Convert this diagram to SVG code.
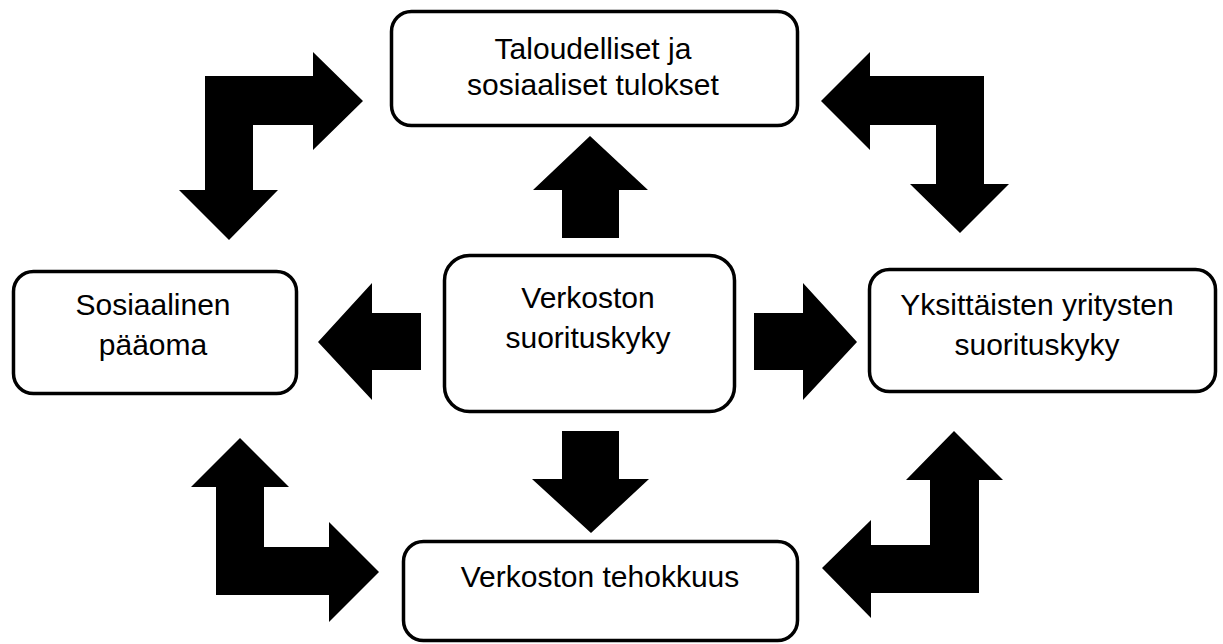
<svg xmlns="http://www.w3.org/2000/svg" width="1223" height="644" viewBox="0 0 1223 644">
<style>
.box{fill:#fff;stroke:#000;stroke-width:3.5}
.lbl{font-family:"Liberation Sans",Arial,sans-serif;font-size:30px;fill:#000;text-anchor:middle}
.arr{fill:#000;stroke:none}
</style>
<rect width="1223" height="644" fill="#fff"/>
<g id="connectors">
<path class="arr" d="M205,76 L313,76 L313,52 L363,101 L313,150 L313,125 L253,125 L253,190 L278,190 L229,240 L179,190 L205,190 Z"/>
<path class="arr" d="M821,101 L870,52 L870,76 L984,76 L984,184 L1009,184 L960,233 L910,184 L936,184 L936,125 L870,125 L870,150 Z"/>
<path class="arr" d="M240,438 L289,487 L264,487 L264,547 L329,547 L329,522 L379,572 L329,622 L329,595 L216,595 L216,487 L191,487 Z"/>
<path class="arr" d="M954,431 L1003,480 L979,480 L979,593 L871,593 L871,618 L822,568 L871,520 L871,545 L930,545 L930,480 L906,480 Z"/>
<path class="arr" d="M562,238 L562,190 L533,190 L590,136 L648,190 L619,190 L619,238 Z"/>
<path class="arr" d="M562,431 L619,431 L619,479 L649,479 L591,533 L532,479 L562,479 Z"/>
<path class="arr" d="M421,313 L421,370 L372,370 L372,400 L318,342 L372,283 L372,313 Z"/>
<path class="arr" d="M754,313 L803,313 L803,283 L857,342 L803,400 L803,370 L754,370 Z"/>
</g>
<g id="node-tulokset">
<rect class="box" x="391.5" y="11.5" width="406" height="114" rx="20"/>
<text class="lbl" x="593" y="59">Taloudelliset ja</text>
<text class="lbl" x="593" y="95">sosiaaliset tulokset</text>
</g>
<g id="node-verkoston-suorituskyky">
<rect class="box" x="444.5" y="255.5" width="290" height="156" rx="25"/>
<text class="lbl" x="588" y="308">Verkoston</text>
<text class="lbl" x="588" y="348">suorituskyky</text>
</g>
<g id="node-sosiaalinen">
<rect class="box" x="13.5" y="271.5" width="283" height="122" rx="20"/>
<text class="lbl" x="153" y="315">Sosiaalinen</text>
<text class="lbl" x="153" y="355">pääoma</text>
</g>
<g id="node-yksittaisten">
<rect class="box" x="869.5" y="269.5" width="346" height="122" rx="20"/>
<text class="lbl" x="1037" y="315">Yksittäisten yritysten</text>
<text class="lbl" x="1037" y="355">suorituskyky</text>
</g>
<g id="node-tehokkuus">
<rect class="box" x="403.5" y="541.5" width="394" height="99" rx="20"/>
<text class="lbl" x="600" y="587">Verkoston tehokkuus</text>
</g>
</svg>
